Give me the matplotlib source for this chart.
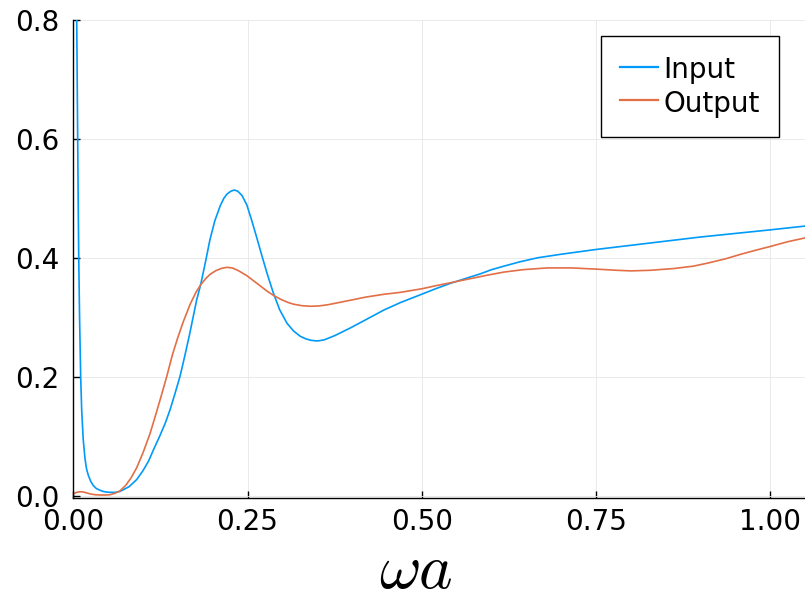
import numpy as np
import matplotlib
matplotlib.use('Agg')
import matplotlib.pyplot as plt

input_x = [0.0040, 0.0049, 0.0056, 0.0063, 0.0070, 0.0078, 0.0090, 0.0106, 0.0120,
           0.0142, 0.0168, 0.0190, 0.0216, 0.0250, 0.0287, 0.0330, 0.0384, 0.0430,
           0.0480, 0.0527, 0.0600, 0.0670, 0.0718, 0.0800, 0.0910, 0.1000, 0.1080,
           0.1150, 0.1240, 0.1320, 0.1390, 0.1460, 0.1530, 0.1600, 0.1670, 0.1770,
           0.1830, 0.1900, 0.1960, 0.2030, 0.2110, 0.2160, 0.2204, 0.2260, 0.2310,
           0.2360, 0.2420, 0.2490, 0.2560, 0.2635, 0.2710, 0.2780, 0.2870, 0.2960,
           0.3066, 0.3160, 0.3257, 0.3330, 0.3400, 0.3470, 0.3520, 0.3600, 0.3750,
           0.3975, 0.4200, 0.4454, 0.4700, 0.5006, 0.5200, 0.5410, 0.5650, 0.5840,
           0.6000, 0.6180, 0.6400, 0.6660, 0.7000, 0.7500, 0.8000, 0.8500, 0.9000,
           0.9500, 1.0000, 1.0510]
input_y = [1.0500, 0.8000, 0.7000, 0.6000, 0.5000, 0.4000, 0.3000, 0.2000, 0.1450,
           0.0950, 0.0620, 0.0450, 0.0340, 0.0240, 0.0170, 0.0120, 0.0090, 0.0070,
           0.0060, 0.0055, 0.0055, 0.0070, 0.0100, 0.0150, 0.0270, 0.0420, 0.0580,
           0.0770, 0.1000, 0.1220, 0.1450, 0.1720, 0.2000, 0.2350, 0.2720, 0.3290,
           0.3560, 0.3950, 0.4300, 0.4620, 0.4880, 0.5000, 0.5070, 0.5120, 0.5140,
           0.5120, 0.5050, 0.4890, 0.4630, 0.4330, 0.4020, 0.3740, 0.3410, 0.3130,
           0.2900, 0.2770, 0.2680, 0.2640, 0.2615, 0.2604, 0.2604, 0.2620, 0.2690,
           0.2820, 0.2960, 0.3120, 0.3250, 0.3390, 0.3480, 0.3570, 0.3660, 0.3730,
           0.3800, 0.3860, 0.3930, 0.4000, 0.4060, 0.4140, 0.4210, 0.4280, 0.4350,
           0.4410, 0.4470, 0.4535]

output_x = [0.0000, 0.0050, 0.0096, 0.0140, 0.0180, 0.0240, 0.0310, 0.0384, 0.0460,
            0.0527, 0.0600, 0.0670, 0.0750, 0.0830, 0.0910, 0.1000, 0.1100, 0.1180,
            0.1260, 0.1340, 0.1425, 0.1500, 0.1580, 0.1677, 0.1760, 0.1830, 0.1900,
            0.1960, 0.2040, 0.2120, 0.2204, 0.2280, 0.2360, 0.2490, 0.2580, 0.2680,
            0.2780, 0.2870, 0.2980, 0.3080, 0.3160, 0.3280, 0.3400, 0.3520, 0.3650,
            0.3975, 0.4200, 0.4454, 0.4700, 0.5006, 0.5200, 0.5410, 0.5700, 0.5950,
            0.6180, 0.6450, 0.6800, 0.7150, 0.7500, 0.7800, 0.8000, 0.8280, 0.8620,
            0.8900, 0.9100, 0.9350, 0.9580, 0.9800, 1.0000, 1.0250, 1.0510]
output_y = [0.0030, 0.0055, 0.0065, 0.0062, 0.0050, 0.0030, 0.0015, 0.0010, 0.0010,
            0.0015, 0.0040, 0.0080, 0.0170, 0.0300, 0.0470, 0.0720, 0.1040, 0.1350,
            0.1670, 0.2000, 0.2380, 0.2660, 0.2930, 0.3220, 0.3420, 0.3550, 0.3650,
            0.3720, 0.3780, 0.3820, 0.3840, 0.3830, 0.3790, 0.3700, 0.3620, 0.3530,
            0.3440, 0.3370, 0.3300, 0.3250, 0.3220, 0.3195, 0.3185, 0.3190, 0.3210,
            0.3286, 0.3340, 0.3386, 0.3420, 0.3480, 0.3530, 0.3580, 0.3650, 0.3710,
            0.3760, 0.3800, 0.3830, 0.3830, 0.3810, 0.3790, 0.3780, 0.3790, 0.3820,
            0.3860, 0.3910, 0.3980, 0.4060, 0.4130, 0.4190, 0.4270, 0.4337]

xticks = [0.0, 0.25, 0.5, 0.75, 1.0]
yticks = [0.0, 0.2, 0.4, 0.6, 0.8]

plt.rcParams['mathtext.fontset'] = 'cm'

fig = plt.figure(figsize=(8.05, 6.02), dpi=100)
ax = fig.add_axes([73.3 / 805, 104 / 602, 1 - 73.3 / 805, 478 / 602])

ax.plot(input_x, input_y, color='#009AF9', lw=1.2, label='Input')
ax.plot(output_x, output_y, color='#E26F46', lw=1.2, label='Output')

ax.set_xlim(0, 1.05)
ax.set_ylim(-0.004, 0.8)
ax.set_xticks(xticks)
ax.set_xticklabels(['%.2f' % t for t in xticks])
ax.set_yticks(yticks)
ax.set_yticklabels(['%.1f' % t for t in yticks])

ax.grid(True, color='#e6e6e6', lw=0.6)
ax.set_axisbelow(True)
for s in ['top', 'right']:
    ax.spines[s].set_visible(False)
for s in ['left', 'bottom']:
    ax.spines[s].set_linewidth(1.0)
ax.tick_params(direction='in', length=5, width=1.0, labelsize=20)
ax.tick_params(axis='x', pad=7)
ax.tick_params(axis='y', pad=10)

# big math label, pushed down to the bottom edge of the figure
ax.set_xlabel(r'$\omega a$', fontsize=46, labelpad=0)
ax.xaxis.set_label_coords((416 - 73.3) / 731.7, -(601 - 498) / 478)
ax.xaxis.label.set_va('bottom')

leg = ax.legend(loc='upper right', bbox_to_anchor=(0.9645, 0.9665), fontsize=20,
                frameon=True, fancybox=False, framealpha=1, edgecolor='black',
                handlelength=1.35, handleheight=1.1, handletextpad=0.2,
                labelspacing=0.17, borderpad=0.7, borderaxespad=0)
leg.get_frame().set_linewidth(1.0)
for line in leg.get_lines():
    line.set_linewidth(1.6)

fig.savefig('out.png', dpi=100)
